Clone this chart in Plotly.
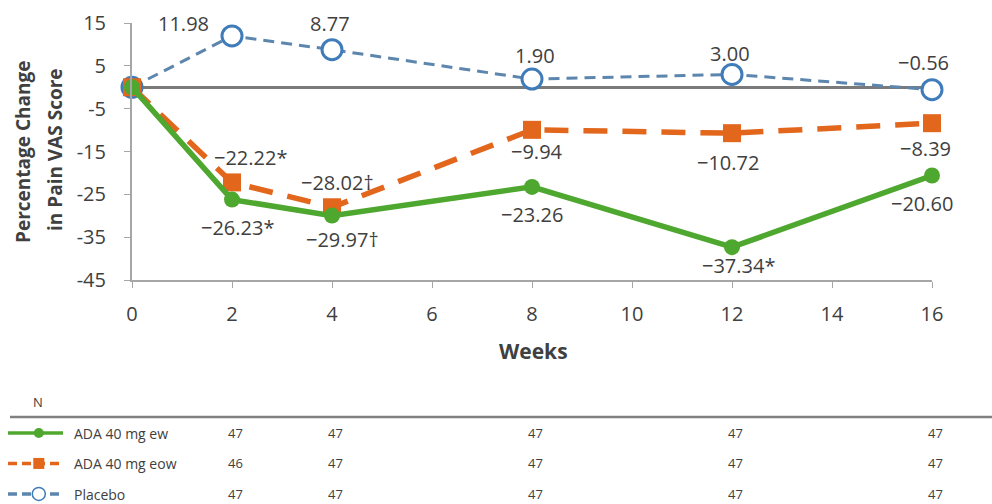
import plotly.graph_objects as go

# Study data: percentage change in pain VAS score by week
weeks = [0, 2, 4, 8, 12, 16]
ada_ew = [0, -26.23, -29.97, -23.26, -37.34, -20.60]
ada_eow = [0, -22.22, -28.02, -9.94, -10.72, -8.39]
placebo = [0, 11.98, 8.77, 1.90, 3.00, -0.56]

# Label text shown next to each point (index 0 unlabeled)
ada_ew_text = ["", "\u221226.23*", "\u221229.97\u2020", "\u221223.26", "\u221237.34*", "\u221220.60"]
ada_eow_text = ["", "\u221222.22*", "\u221228.02\u2020", "\u22129.94", "\u221210.72", "\u22128.39"]
placebo_text = ["", "11.98", "8.77", "1.90", "3.00", "\u22120.56"]

# Patient counts table
n_weeks = [2, 4, 8, 12, 16]
n_ada_ew = [47, 47, 47, 47, 47]
n_ada_eow = [46, 47, 47, 47, 47]
n_placebo = [47, 47, 47, 47, 47]

series_names = ["ADA 40 mg ew", "ADA 40 mg eow", "Placebo"]

y_ticks = [-45, -35, -25, -15, -5, 5, 15]
x_ticks = [0, 2, 4, 6, 8, 10, 12, 14, 16]

# Styling
W, H = 992, 504
GREEN = "#4ea72e"
ORANGE = "#e2661c"
BLUE_LINE = "#5c86ad"
BLUE_MARK = "#3f7cb9"
TXT = "#404040"
FONT = "Open Sans"

# Label pixel offsets (dx, dy downward) per point
ew_off = [(0, 0), (5, 28), (10, 24), (0, 28), (6, 18), (-10, 28)]
eow_off = [(0, 0), (18, -25), (5, -25), (5, 22), (-4, 29), (-7, 25)]
pl_off = [(0, 0), (-49, -12), (-2, -26), (3, -24), (-2, -21), (-9, -27)]


def px_x(p):
    return p / W


def px_y(p):
    return 1 - p / H


def paper_text(x, y, text, size, angle=0, xanchor="center"):
    return dict(x=px_x(x), y=px_y(y), xref="paper", yref="paper", text=text,
                showarrow=False, textangle=angle, xanchor=xanchor, yanchor="middle",
                font=dict(family=FONT, size=size, color=TXT))


fig = go.Figure()

fig.add_trace(go.Scatter(
    x=weeks, y=placebo, mode="lines+markers", cliponaxis=False,
    line=dict(color=BLUE_LINE, width=3, dash="11px,7px"),
    marker=dict(symbol="circle", size=20, color="white",
                line=dict(color=BLUE_MARK, width=3)),
    showlegend=False, hoverinfo="skip"))

fig.add_trace(go.Scatter(
    x=weeks, y=ada_eow, mode="lines+markers", cliponaxis=False,
    line=dict(color=ORANGE, width=5.5, dash="24px,15px"),
    marker=dict(symbol="square", size=18, color=ORANGE),
    showlegend=False, hoverinfo="skip"))

fig.add_trace(go.Scatter(
    x=weeks, y=ada_ew, mode="lines+markers", cliponaxis=False,
    line=dict(color=GREEN, width=5.5),
    marker=dict(symbol="circle", size=16, color=GREEN),
    showlegend=False, hoverinfo="skip"))

annotations = []
for vals, texts, offs in [(placebo, placebo_text, pl_off),
                          (ada_eow, ada_eow_text, eow_off),
                          (ada_ew, ada_ew_text, ew_off)]:
    for xv, yv, t, (dx, dy) in zip(weeks, vals, texts, offs):
        if not t:
            continue
        annotations.append(dict(
            x=xv, y=yv, xref="x", yref="y", text=t, showarrow=False,
            xanchor="center", yanchor="middle",
            xshift=dx, yshift=-dy, font=dict(family=FONT, size=20, color=TXT)))

# Axis titles
annotations.append(paper_text(533, 351, "<b>Weeks</b>", 21))
annotations.append(paper_text(23, 152, "<b>Percentage Change</b>", 19, angle=-90))
annotations.append(paper_text(55, 150, "<b>in Pain VAS Score</b>", 19, angle=-90))

# Table of N per arm
annotations.append(paper_text(38, 402, "N", 13))
row_y = [433, 463, 494]
for name, counts, ry in zip(series_names, [n_ada_ew, n_ada_eow, n_placebo], row_y):
    annotations.append(paper_text(72, ry, name, 14, xanchor="left"))
    for wk, c in zip(n_weeks, counts):
        annotations.append(dict(x=wk, y=px_y(ry), xref="x", yref="paper",
                                text=str(c), showarrow=False, xshift=3,
                                xanchor="center", yanchor="middle",
                                font=dict(family=FONT, size=13, color=TXT)))

# Legend samples for the table rows
leg_styles = [
    (dict(color=GREEN, width=3.5), dict(symbol="circle", size=10, color=GREEN)),
    (dict(color=ORANGE, width=3.5, dash="9px,5px"), dict(symbol="square", size=11, color=ORANGE)),
    (dict(color=BLUE_LINE, width=3.5, dash="9px,5px"),
     dict(symbol="circle", size=13, color="white", line=dict(color=BLUE_MARK, width=1.5))),
]
for i, (ln, mk) in enumerate(leg_styles):
    fig.add_trace(go.Scatter(x=[0, 1], y=[i + 1, i + 1], mode="lines", line=ln,
                             xaxis="x2", yaxis="y2", showlegend=False, hoverinfo="skip"))
    fig.add_trace(go.Scatter(x=[0.56], y=[i + 1], mode="markers", marker=mk,
                             xaxis="x2", yaxis="y2", showlegend=False, hoverinfo="skip"))

fig.update_layout(
    width=W, height=H,
    margin=dict(l=0, r=0, t=0, b=0, autoexpand=False),
    paper_bgcolor="white", plot_bgcolor="white",
    hovermode=False,
    annotations=annotations,
    shapes=[dict(type="line", xref="paper", yref="paper",
                 x0=px_x(10), x1=1, y0=px_y(417), y1=px_y(417),
                 line=dict(color="#808080", width=2.5))],
    xaxis=dict(domain=[px_x(132), px_x(932)], range=[0, 16], tickvals=x_ticks,
               showgrid=False, zeroline=False, showline=True, linecolor="#a6a6a6",
               linewidth=2, ticks="outside", ticklen=6, tickcolor="#a6a6a6",
               ticklabelstandoff=9, automargin=False,
               tickfont=dict(family=FONT, size=20, color=TXT), anchor="y"),
    yaxis=dict(domain=[px_y(280), px_y(23)], range=[-45, 15], tickvals=y_ticks,
               ticktext=[str(v) for v in y_ticks], automargin=False,
               showgrid=False, zeroline=True, zerolinecolor="#7a7a7a", zerolinewidth=2.5,
               showline=True, linecolor="#a6a6a6", linewidth=2, ticks="outside",
               ticklen=6, tickcolor="#a6a6a6", ticklabelstandoff=14,
               tickfont=dict(family=FONT, size=20, color=TXT), anchor="x"),
    xaxis2=dict(domain=[px_x(8), px_x(63)], range=[0, 1], visible=False, anchor="y2"),
    yaxis2=dict(domain=[0, px_y(418)], range=[3.33, 0.51], visible=False, anchor="x2"),
)

fig.write_html("out.html")
